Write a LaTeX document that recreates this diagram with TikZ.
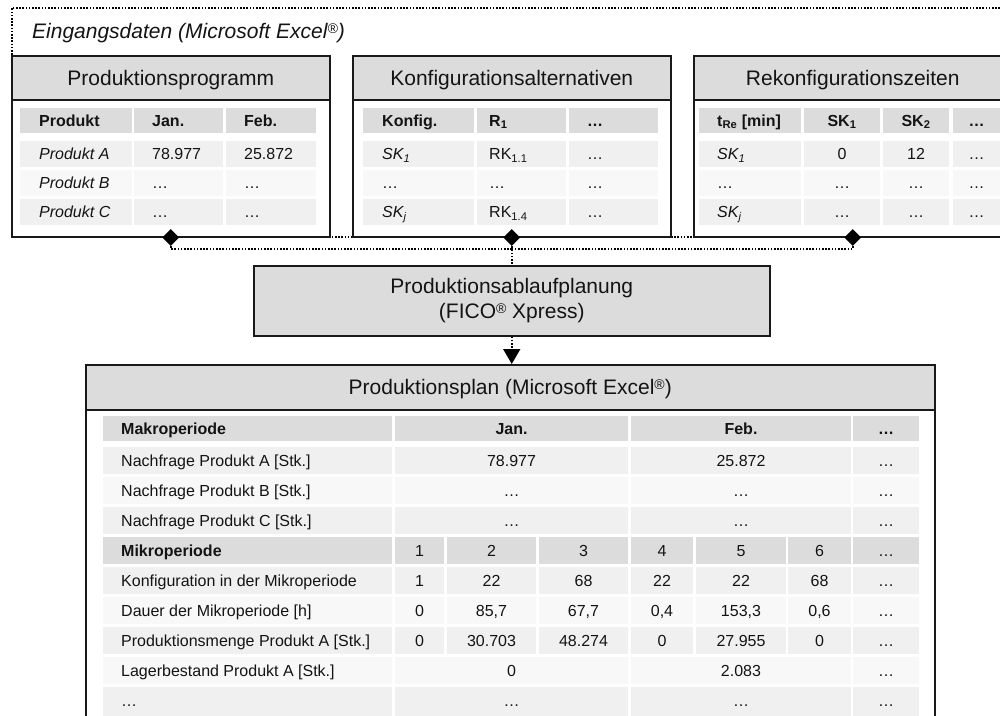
\documentclass[tikz,border=0pt]{standalone}
\usepackage{fontspec}
\setmainfont{Liberation Sans}
\usetikzlibrary{shapes.geometric,arrows.meta}

\definecolor{hdr}{RGB}{220,220,220}
\definecolor{rowA}{RGB}{240,240,240}
\definecolor{rowB}{RGB}{248,248,248}
\definecolor{ink}{RGB}{20,20,20}

\newcommand\hdrfont{\fontsize{21}{25}\selectfont}
\newcommand\tblfont{\fontsize{16}{19}\selectfont}
% small registered mark, top aligned with the capitals
\newcommand\regmark{\raisebox{5pt}{\fontsize{14}{14}\selectfont ®}}

\tikzset{
  box/.style={draw=black!90, line width=1.5pt, fill=white, inner sep=0pt, anchor=north west},
  hdbox/.style={box, fill=hdr, font=\hdrfont, text=ink, text height=15pt, text depth=0pt},
  cellbg/.style={inner sep=0pt, outer sep=0pt, anchor=north west},
  tl/.style={anchor=west, inner sep=0pt, font=\tblfont, text height=11.5pt, text depth=0pt, text=ink},
  tc/.style={tl, anchor=center},
  dotline/.style={line width=1.6pt, dash pattern=on 1.6pt off 1.6pt, draw=black},
  joint/.style={diamond, fill=black, inner sep=0pt, minimum width=17pt, minimum height=17pt},
}

% background cell: name, x1, y1, x2, y2, fill
\newcommand\cel[6]{\node[cellbg, fill=#6, minimum width={(#4)-(#2)}, minimum height={(#5)-(#3)}] (#1) at (#2,#3) {};}
% left-aligned text in a cell: cell, padding, text
\newcommand\tL[3]{\node[tl] (#1t) at ([xshift=#2pt]#1.west) {#3};}
% centred text in a cell
\newcommand\tC[2]{\node[tc] (#1t) at (#1.center) {#2};}

\begin{document}
\begin{tikzpicture}[x=1pt,y=-1pt]
\path[use as bounding box] (0,0) rectangle (1000,715);
\clip (0,0) rectangle (1000,715);

% ---------- input data frame ----------
\node[dotline, inner sep=0pt, anchor=north west, minimum width=1010pt, minimum height=229pt] (frame) at (11,7) {};
\node[anchor=base west, inner sep=0pt, font=\hdrfont\itshape, text=ink] (eing) at (32,38)
  {Eingangsdaten (Microsoft Excel\regmark)};

% ---------- Produktionsprogramm ----------
\node[box, minimum width=318pt, minimum height=181pt] (pp) at (11,55) {};
\node[hdbox, minimum width=318pt, minimum height=44pt] (pph) at (11,55) {Produktionsprogramm};
\foreach \r/\ya/\yb/\f in {0/108/133/hdr,1/141/167/rowA,2/170/196/rowB,3/199/225/rowA}
  \foreach \c/\xa/\xb in {0/20/132,1/134/223,2/226/316}
    {\cel{a\r\c}{\xa}{\ya}{\xb}{\yb}{\f}}
\tL{a00}{19}{\textbf{Produkt}}   \tL{a01}{18}{\textbf{Jan.}} \tL{a02}{18}{\textbf{Feb.}}
\tL{a10}{19}{\textit{Produkt A}} \tL{a11}{18}{78.977}        \tL{a12}{18}{25.872}
\tL{a20}{19}{\textit{Produkt B}} \tL{a21}{18}{…}             \tL{a22}{18}{…}
\tL{a30}{19}{\textit{Produkt C}} \tL{a31}{18}{…}             \tL{a32}{18}{…}

% ---------- Konfigurationsalternativen ----------
\node[box, minimum width=318pt, minimum height=181pt] (ka) at (352,55) {};
\node[hdbox, minimum width=318pt, minimum height=44pt] (kah) at (352,55) {Konfigurationsalternativen};
\foreach \r/\ya/\yb/\f in {0/108/133/hdr,1/141/167/rowA,2/170/196/rowB,3/199/225/rowA}
  \foreach \c/\xa/\xb in {0/363/474,1/477/566,2/569/658}
    {\cel{b\r\c}{\xa}{\ya}{\xb}{\yb}{\f}}
\tL{b00}{19}{\textbf{Konfig.}}            \tL{b01}{12}{\textbf{R\textsubscript{1}}} \tL{b02}{18}{\textbf{…}}
\tL{b10}{19}{\textit{SK\textsubscript{1}}} \tL{b11}{12}{RK\textsubscript{1.1}}      \tL{b12}{18}{…}
\tL{b20}{19}{…}                            \tL{b21}{12}{…}                           \tL{b22}{18}{…}
\tL{b30}{19}{\textit{SK\textsubscript{j}}} \tL{b31}{12}{RK\textsubscript{1.4}}      \tL{b32}{18}{…}

% ---------- Rekonfigurationszeiten ----------
\node[box, minimum width=318pt, minimum height=181pt] (rk) at (693,55) {};
\node[hdbox, minimum width=318pt, minimum height=44pt] (rkh) at (693,55) {Rekonfigurationszeiten};
\foreach \r/\ya/\yb/\f in {0/108/133/hdr,1/141/167/rowA,2/170/196/rowB,3/199/225/rowA}
  \foreach \c/\xa/\xb in {0/699/801,1/804/880,2/883/949,3/953/1000}
    {\cel{c\r\c}{\xa}{\ya}{\xb}{\yb}{\f}}
\tL{c00}{18}{\textbf{t\textsubscript{Re} [min]}}
\tC{c01}{\textbf{SK\textsubscript{1}}} \tC{c02}{\textbf{SK\textsubscript{2}}} \tC{c03}{\textbf{…}}
\tL{c10}{18}{\textit{SK\textsubscript{1}}} \tC{c11}{0} \tC{c12}{12} \tC{c13}{…}
\tL{c20}{18}{…}                            \tC{c21}{…} \tC{c22}{…}  \tC{c23}{…}
\tL{c30}{18}{\textit{SK\textsubscript{j}}} \tC{c31}{…} \tC{c32}{…}  \tC{c33}{…}

% ---------- scheduling ----------
\node[box, fill=hdr, minimum width=516pt, minimum height=70pt, align=center, font=\hdrfont, text=ink] (abl) at (253,265)
  {Produktionsablaufplanung\\(FICO\regmark{} Xpress)};

% ---------- production plan ----------
\node[box, minimum width=849pt, minimum height=380pt] (res) at (85,364) {};
\node[hdbox, minimum width=849pt, minimum height=45pt] (resh) at (85,364) {Produktionsplan (Microsoft Excel\regmark)};

% rows with macro periods
\foreach \r/\ya/\yb/\f in {0/416/441/hdr,1/447/474/rowA,2/477/504/rowB,3/507/534/rowA,8/657/684/rowB,9/687/720/rowA}
  \foreach \c/\xa/\xb in {0/103/392,1/395/628,2/631/851,3/853/919}
    {\cel{m\r\c}{\xa}{\ya}{\xb}{\yb}{\f}}
% rows with micro periods
\foreach \r/\ya/\yb/\f in {4/537/564/hdr,5/567/594/rowA,6/597/624/rowB,7/627/654/rowA}
  \foreach \c/\xa/\xb in {0/103/392,1/395/444,2/447/536,3/539/628,4/631/693,5/696/786,6/788/851,7/853/919}
    {\cel{m\r\c}{\xa}{\ya}{\xb}{\yb}{\f}}

\tL{m00}{18}{\textbf{Makroperiode}} \tC{m01}{\textbf{Jan.}} \tC{m02}{\textbf{Feb.}} \tC{m03}{\textbf{…}}
\tL{m10}{18}{Nachfrage Produkt A [Stk.]} \tC{m11}{78.977} \tC{m12}{25.872} \tC{m13}{…}
\tL{m20}{18}{Nachfrage Produkt B [Stk.]} \tC{m21}{…} \tC{m22}{…} \tC{m23}{…}
\tL{m30}{18}{Nachfrage Produkt C [Stk.]} \tC{m31}{…} \tC{m32}{…} \tC{m33}{…}
\tL{m40}{18}{\textbf{Mikroperiode}}
  \tC{m41}{1} \tC{m42}{2} \tC{m43}{3} \tC{m44}{4} \tC{m45}{5} \tC{m46}{6} \tC{m47}{…}
\tL{m50}{18}{Konfiguration in der Mikroperiode}
  \tC{m51}{1} \tC{m52}{22} \tC{m53}{68} \tC{m54}{22} \tC{m55}{22} \tC{m56}{68} \tC{m57}{…}
\tL{m60}{18}{Dauer der Mikroperiode [h]}
  \tC{m61}{0} \tC{m62}{85,7} \tC{m63}{67,7} \tC{m64}{0,4} \tC{m65}{153,3} \tC{m66}{0,6} \tC{m67}{…}
\tL{m70}{18}{Produktionsmenge Produkt A [Stk.]}
  \tC{m71}{0} \tC{m72}{30.703} \tC{m73}{48.274} \tC{m74}{0} \tC{m75}{27.955} \tC{m76}{0} \tC{m77}{…}
\tL{m80}{18}{Lagerbestand Produkt A [Stk.]} \tC{m81}{0} \tC{m82}{2.083} \tC{m83}{…}
\node[tl] (m90t) at ([xshift=18pt]m90.west |- 0,701) {…};
\node[tc] (m91t) at (m91.center |- 0,701) {…};
\node[tc] (m92t) at (m92.center |- 0,701) {…};
\node[tc] (m93t) at (m93.center |- 0,701) {…};

% ---------- connectors ----------
\node[joint] (j1) at (pp.south) {};
\node[joint] (j2) at (ka.south) {};
\node[joint] (j3) at (rk.south) {};
\coordinate (bus) at (j2 |- 0,249);
\draw[dotline] (j1.south) |- (bus);
\draw[dotline] (j3.south) |- (bus);
\draw[dotline] (j2.south) -- (abl.north);
\draw[dotline, -{Triangle[width=17pt,length=15pt]}] (abl.south) -- (abl.south |- res.north);
\end{tikzpicture}
\end{document}
